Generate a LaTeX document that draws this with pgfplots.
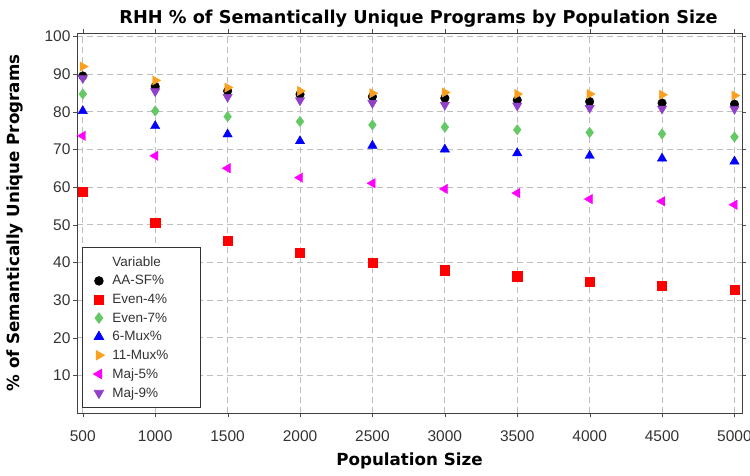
\documentclass[border=0pt]{standalone}
\usepackage{fontspec}
\setmainfont{Liberation Sans}
\newfontfamily\labfont{DejaVu Sans}
\usepackage{pgfplots}
\pgfplotsset{compat=1.18}
\definecolor{cgreen}{RGB}{100,200,100}
\definecolor{corange}{RGB}{250,160,30}
\definecolor{cpurple}{RGB}{145,65,200}
\definecolor{cmagenta}{RGB}{255,0,255}
\definecolor{cgrid}{RGB}{190,190,190}
\begin{document}
\begin{tikzpicture}
\begin{axis}[
  scale only axis,
  width=665pt, height=380pt,
  xmin=460, xmax=5052, ymin=0, ymax=100.9,
  xtick={500,1000,...,5000},
  ytick={10,20,...,100},
  /pgf/number format/assume math mode=true,
  /pgf/number format/set thousands separator={},
  tick label style={font=\fontsize{15.5}{17}\selectfont, text=black!80},
  xticklabel style={yshift=-10pt},
  yticklabel style={xshift=1pt},
  tick align=outside,
  major tick length=4pt,
  tick style={black!70},
  grid=major,
  grid style={cgrid, dash pattern=on 6pt off 4pt, line width=0.8pt},
  axis line style={black!75, line width=0.8pt},
  title={\labfont\bfseries\fontsize{17.7}{20}\selectfont RHH \% of Semantically Unique Programs by Population Size},
  title style={at={(axis description cs:0.5,1)}, yshift=8pt, xshift=9pt, anchor=center},
  xlabel={\labfont\bfseries\fontsize{16.7}{19}\selectfont Population Size},
  ylabel={\labfont\bfseries\fontsize{16.7}{19}\selectfont \% of Semantically Unique Programs},
  xlabel style={at={(axis description cs:0.5,0)}, yshift=-48pt, anchor=center},
  ylabel style={at={(axis description cs:0,0.5)}, rotate=0, yshift=62pt, anchor=center},
  legend cell align=left,
  legend style={at={(rel axis cs:0.0075,0.013)}, anchor=south west, draw=black!80, line width=0.8pt,
    font=\fontsize{13.5}{16}\selectfont, text=black!80, row sep=3.7pt, column sep=6pt,
    inner xsep=8pt, inner ysep=7pt},
  mark size=4.8pt,
]
\addlegendimage{empty legend}
\addlegendentry{\makebox[78pt][l]{Variable}}
\addplot[only marks, mark=*, black, mark size=4.3pt] coordinates {
(500,89.5) (1000,86.7) (1500,85.5) (2000,84.6) (2500,84.0) (3000,83.6) (3500,83.1) (4000,82.7) (4500,82.3) (5000,82.0)};
\addlegendentry{AA-SF\%}
\addplot[only marks, mark=square*, red, mark size=4.6pt] coordinates {
(500,58.8) (1000,50.5) (1500,45.8) (2000,42.5) (2500,40.0) (3000,37.9) (3500,36.3) (4000,34.9) (4500,33.8) (5000,32.8)};
\addlegendentry{Even-4\%}
\addplot[only marks, mark=diamond*, cgreen, mark size=5.2pt] coordinates {
(500,84.7) (1000,80.2) (1500,78.7) (2000,77.4) (2500,76.5) (3000,75.9) (3500,75.2) (4000,74.5) (4500,74.1) (5000,73.3)};
\addlegendentry{Even-7\%}
\addplot[only marks, mark=triangle*, blue, mark size=5.4pt] coordinates {
(500,80.2) (1000,76.2) (1500,74.0) (2000,72.2) (2500,71.0) (3000,70.0) (3500,69.0) (4000,68.3) (4500,67.6) (5000,66.8)};
\addlegendentry{6-Mux\%}
\addplot[only marks, mark=triangle*, corange, mark size=5.4pt, mark options={rotate=-90}] coordinates {
(500,92.0) (1000,88.3) (1500,86.4) (2000,85.5) (2500,84.9) (3000,85.1) (3500,84.7) (4000,84.7) (4500,84.5) (5000,84.3)};
\addlegendentry{11-Mux\%}
\addplot[only marks, mark=triangle*, cmagenta, mark size=5.4pt, mark options={rotate=90}] coordinates {
(500,73.6) (1000,68.3) (1500,65.0) (2000,62.5) (2500,61.0) (3000,59.5) (3500,58.4) (4000,56.8) (4500,56.2) (5000,55.3)};
\addlegendentry{Maj-5\%}
\addplot[only marks, mark=triangle*, cpurple, mark size=5.4pt, mark options={rotate=180}] coordinates {
(500,88.9) (1000,85.4) (1500,83.9) (2000,83.0) (2500,82.3) (3000,81.8) (3500,81.6) (4000,81.0) (4500,80.8) (5000,80.7)};
\addlegendentry{Maj-9\%}
\end{axis}
\pgfresetboundingbox
\path[use as bounding box] (-77pt,-62pt) rectangle (673pt,413pt);
\end{tikzpicture}
\end{document}
